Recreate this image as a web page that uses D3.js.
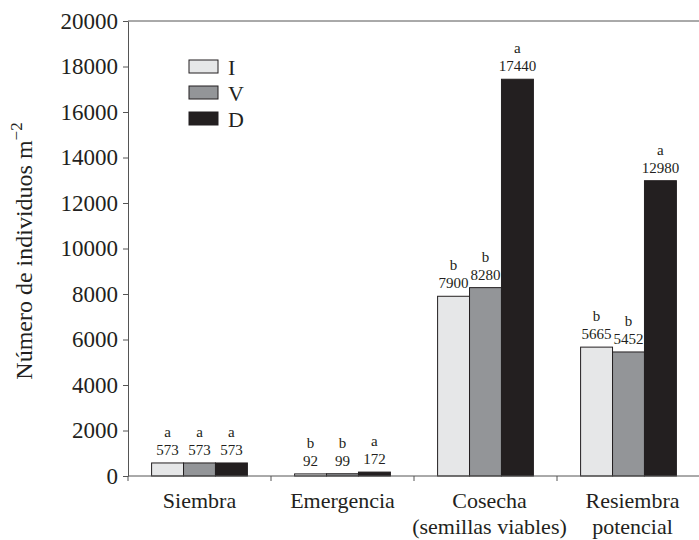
<!DOCTYPE html>
<html><head><meta charset="utf-8">
<script src="https://cdn.jsdelivr.net/npm/d3@7"></script>
<style>
body{margin:0;background:#fff;}
svg text{font-family:"Liberation Serif","Times New Roman","DejaVu Serif",serif !important;fill:#231f20;}
</style></head>
<body>
<svg id="c" width="699" height="540" font-family="Liberation Serif"></svg>
<script>
const categories = [["Siembra"],["Emergencia"],["Cosecha","(semillas viables)"],["Resiembra","potencial"]];
const catKeys = ["Siembra","Emergencia","Cosecha","Resiembra"];
const series = ["I","V","D"];
const valuesI = [573, 92, 7900, 5665];
const valuesV = [573, 99, 8280, 5452];
const valuesD = [573, 172, 17440, 12980];
const lettersI = ["a","b","b","b"];
const lettersV = ["a","b","b","b"];
const lettersD = ["a","a","a","a"];
const yTicks = [0,2000,4000,6000,8000,10000,12000,14000,16000,18000,20000];
const colors = {I:"#e6e7e8", V:"#939598", D:"#231f20"};

const svg = d3.select("#c");
const mLeft = 128, mRight = 700, mTop = 21, mBottom = 476;

const x = d3.scaleBand().domain(catKeys).range([mLeft, mRight]).padding(0);
const bw = x.bandwidth();
const xs = d3.scaleBand().domain(series).range([bw*0.165, bw*0.835]).padding(0);
const y = d3.scaleLinear().domain([0, 20000]).range([mBottom, mTop]);

const vals = {I: valuesI, V: valuesV, D: valuesD};
const lets = {I: lettersI, V: lettersV, D: lettersD};
const data = [];
catKeys.forEach((c,i)=>series.forEach(s=>data.push({c, s, v: vals[s][i], l: lets[s][i]})));

// bars
svg.append("g").selectAll("rect").data(data).join("rect")
  .attr("x", d=>x(d.c)+xs(d.s))
  .attr("y", d=>y(d.v))
  .attr("width", xs.bandwidth())
  .attr("height", d=>y(0)-y(d.v))
  .attr("fill", d=>colors[d.s])
  .attr("stroke", "#231f20")
  .attr("stroke-width", 1);

// labels
const lab = svg.append("g").attr("text-anchor","middle").style("font-size","15px");
lab.selectAll("text.v").data(data).join("text").attr("class","v")
  .attr("x", d=>x(d.c)+xs(d.s)+xs.bandwidth()/2)
  .attr("y", d=>y(d.v)-8)
  .text(d=>d.v);
lab.selectAll("text.l").data(data).join("text").attr("class","l")
  .attr("x", d=>x(d.c)+xs(d.s)+xs.bandwidth()/2)
  .attr("y", d=>y(d.v)-26)
  .text(d=>d.l);

// y axis
const ya = svg.append("g").attr("transform",`translate(${mLeft},0)`)
  .call(d3.axisLeft(y).tickValues(yTicks).tickSize(5).tickSizeOuter(0).tickFormat(d3.format("d")).tickPadding(5));
ya.attr("font-family", null);
ya.select(".domain").attr("stroke","#555");
ya.selectAll(".tick line").attr("stroke","#555");
ya.selectAll(".tick text").style("font-size","23px").attr("fill","#231f20");

// top line
svg.append("line").attr("x1",mLeft).attr("x2",699).attr("y1",y(20000)).attr("y2",y(20000)).attr("stroke","#555");
// bottom axis
svg.append("line").attr("x1",mLeft).attr("x2",699).attr("y1",y(0)).attr("y2",y(0)).attr("stroke","#555");
svg.append("g").selectAll("line").data(catKeys).join("line")
  .attr("x1",d=>x(d)).attr("x2",d=>x(d)).attr("y1",y(0)).attr("y2",y(0)+5).attr("stroke","#555");

// category labels
const cl = svg.append("g").attr("text-anchor","middle").style("font-size","22px");
categories.forEach((lines,i)=>{
  const t = cl.append("text").attr("x", x(catKeys[i])+bw/2).attr("y", 508);
  lines.forEach((ln,j)=>t.append("tspan").attr("x", x(catKeys[i])+bw/2 + (i>=2?4:0)).attr("dy", j===0?0:26).text(ln));
});

// y title
const yt = svg.append("text").attr("transform","translate(32,251) rotate(-90)").attr("text-anchor","middle").style("font-size","24px");
yt.append("tspan").text("Número de individuos m");
yt.append("tspan").attr("dy",-10).style("font-size","17px").text("−2");

// legend
const lg = svg.append("g");
series.forEach((s,i)=>{
  lg.append("rect").attr("x",189).attr("y",60+i*26).attr("width",29).attr("height",13)
    .attr("fill",colors[s]).attr("stroke","#231f20").attr("stroke-width",1);
  lg.append("text").attr("x",228).attr("y",75+i*26).style("font-size","22px").text(s);
});
</script>
</body></html>
